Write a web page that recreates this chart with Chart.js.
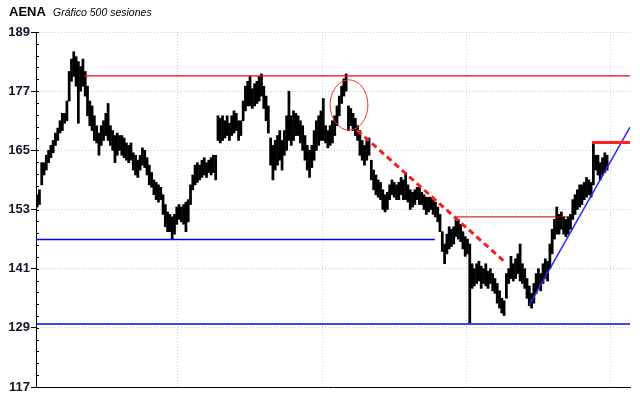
<!DOCTYPE html>
<html>
<head>
<meta charset="utf-8">
<title>AENA</title>
<script src="https://cdn.jsdelivr.net/npm/chart.js@4/dist/chart.umd.min.js"></script>
<style>
  html, body { margin: 0; padding: 0; background: #fff; }
</style>
</head>
<body>
<canvas id="chart" width="640" height="398"></canvas>
<script>
// rango diario (mínimo / máximo), una barra cada 2 sesiones
const lows = [
  153.5, 154, 158, 160, 161, 162.5, 163.5, 164.5, 166, 167,
  168.5, 169, 170.5, 171, 175, 179, 180, 178, 170.5, 177,
  178, 176, 172, 170, 169, 167, 166.5, 164, 166, 167,
  168, 167, 166, 165, 162.5, 164, 165, 164, 163.5, 163,
  162.5, 163, 161, 160, 159.5, 161, 162, 161.5, 160, 158,
  157.5, 156, 155, 154.5, 155, 152, 149.5, 148.5, 148.5, 147,
  148, 150, 151, 150.5, 150, 148.5, 150.5, 154, 157, 158,
  158.5, 159, 159.5, 160, 159.5, 160.5, 160, 160.5, 159, 167,
  166.5, 167, 167.5, 168, 167, 168, 168.5, 169, 167, 168,
  171, 173, 174, 174, 173.5, 174, 174.5, 175, 176, 173.5,
  171, 168.5, 162, 159, 161, 162, 163, 161, 164, 165,
  167, 166, 167, 168, 168, 166.5, 165, 163, 161, 159.5,
  161.5, 163, 165, 166, 167, 167, 166.5, 165.5, 166, 166.5,
  168, 170, 172, 174.5, 176, 177, 169, 170, 169, 168,
  167, 164, 163, 162, 163, 164, 159, 157, 156, 155.5,
  155, 153, 152.5, 153, 155, 156, 155.5, 155, 155, 156,
  155, 155, 154.5, 153, 153.5, 154, 155, 154, 154, 153,
  152, 152.5, 153, 152, 151.5, 150.5, 148.5, 144.5, 142, 144,
  145, 145.5, 146, 147.5, 147, 146.5, 145, 143.5, 144, 130,
  137, 137.5, 138, 138.5, 137, 138, 137.5, 137, 138, 136.5,
  136, 134, 133, 132, 131.5, 135, 138, 139, 138.5, 139,
  140, 138.5, 138, 137, 135, 133.5, 133, 134, 136, 137,
  136.5, 138, 139, 138.5, 141, 144, 147, 148, 148, 149,
  148, 147.5, 148, 149, 151, 152, 153, 153.5, 154, 155,
  155.5, 156, 155.5, 158, 161, 160, 159, 160, 160.5, 161
];
const highs = [
  156, 157, 162.5, 162.5, 164, 165, 166, 167, 168.5, 169.5,
  171, 172.5, 172.5, 175, 181, 183.5, 185, 184, 183, 182,
  183.5, 181, 178, 175, 174, 172, 170, 168.5, 170, 171,
  172.5, 174.5, 170, 169, 168, 168.5, 168, 168, 167.5, 166.5,
  166, 166.5, 164.5, 164, 163, 164, 165.5, 165, 163.5, 162,
  160.5, 159, 158.5, 158, 157.5, 156, 154, 152.5, 152, 151.5,
  152, 153.5, 154, 153.5, 154, 154.5, 155, 158, 160, 162,
  162.5, 162, 163, 163.5, 162.5, 163, 163.5, 164, 164, 172,
  171.5, 172, 171, 172, 170.5, 172, 173, 172.5, 171, 171,
  175, 178, 179, 180, 177.5, 178.5, 179, 180, 180.5, 178,
  176, 174, 167.5, 166, 167, 168, 169, 167, 169, 172,
  177, 172, 173, 172.5, 172, 171, 170, 168, 166, 165,
  166, 169, 171, 172, 173, 175.5, 170, 169, 170, 171,
  172, 174, 176, 178, 179.5, 180.5, 174, 173.5, 172.5, 171.5,
  170, 169, 167, 166, 167, 167.5, 163, 161, 160, 159,
  158.5, 157, 156, 156.5, 158, 159, 158.5, 158, 158.5, 159.5,
  159, 160.5, 158, 157, 156.5, 157, 157.5, 157.5, 156.5, 156,
  155.5, 155.5, 155.5, 155, 154.5, 153.5, 152, 148.5, 146, 148,
  149.5, 149, 149.5, 151.5, 151, 150, 148.5, 147.5, 147, 146,
  142, 141, 142, 142.5, 141.5, 141, 142, 140.5, 141, 140,
  139, 138, 136.5, 135, 134.5, 140, 141, 143.5, 142, 143,
  144, 146, 142, 141, 139, 137.5, 136, 138, 140, 141,
  140, 142, 143, 142.5, 146, 149, 151, 153.5, 152, 152.5,
  151.5, 151, 151.5, 152, 155, 156, 157, 158, 158, 158.5,
  159.5, 159, 158.5, 166.5, 164, 164, 162.5, 163.5, 164.5, 164
];

const yMin = 117;
const yMax = 189;
const yMajorStep = 12;
const yMinorStep = 2.4;
const xMax = 519;
const xGridSessions = [124, 250, 376, 502];

// líneas de soporte / resistencia: [sesión, precio] inicio y fin
const redResistance = [[42, 180.1], [519, 180.1]];
const redTop = [[486, 166.6], [519, 166.6]];
const redMid = [[368, 151.5], [467, 151.5]];
const redDashed = [[280.5, 169.1], [410, 142.3]];
const blueSupportHigh = [[0, 146.9], [348.5, 146.9]];
const blueSupportLow = [[0, 129.8], [519, 129.8]];
const blueTrend = [[431, 133.6], [519, 169.7]];
const circle = { session: 273.5, price: 174.2, rSessions: 16.5, rPrice: 5.1 };

const toPoints = (pairs) => pairs.map(([x, y]) => ({ x, y }));
const isMajor = (v) => {
  const k = (v - yMin) / yMajorStep;
  return Math.abs(k - Math.round(k)) < 0.01;
};

const lineSet = (pairs, color, width, dash) => ({
  type: 'line',
  data: toPoints(pairs),
  borderColor: color,
  borderWidth: width,
  borderDash: dash || [],
  pointRadius: 0,
  fill: false,
  order: 1
});

const decorations = {
  id: 'decorations',
  afterDatasetsDraw(chart) {
    const { ctx, chartArea } = chart;
    const x = chart.scales.x;
    const y = chart.scales.y;

    // círculo rojo
    const cx = x.getPixelForValue(circle.session);
    const cy = y.getPixelForValue(circle.price);
    const rx = Math.abs(x.getPixelForValue(circle.session + circle.rSessions) - cx);
    const ry = Math.abs(y.getPixelForValue(circle.price + circle.rPrice) - cy);
    ctx.save();
    ctx.strokeStyle = '#ff3030';
    ctx.lineWidth = 1;
    ctx.beginPath();
    ctx.ellipse(cx, cy, rx, ry, 0, 0, Math.PI * 2);
    ctx.stroke();

    // marcas menores del eje
    ctx.strokeStyle = '#000';
    y.ticks.forEach((t) => {
      const py = Math.round(y.getPixelForValue(t.value)) + 0.5;
      ctx.beginPath();
      ctx.moveTo(chartArea.left, py);
      ctx.lineTo(chartArea.left + 3, py);
      ctx.stroke();
    });
    ctx.restore();
  },
  afterDraw(chart) {
    const { ctx } = chart;
    ctx.save();
    ctx.fillStyle = '#000';
    ctx.textBaseline = 'alphabetic';
    ctx.font = 'bold 13px "Liberation Sans", Arial, sans-serif';
    ctx.fillText('AENA', 9, 16);
    ctx.font = 'italic 10.5px "Liberation Sans", Arial, sans-serif';
    ctx.fillText('Gráfico 500 sesiones', 53, 16);
    ctx.restore();
  }
};

new Chart(document.getElementById('chart'), {
  type: 'bar',
  data: {
    datasets: [
      {
        type: 'bar',
        data: lows.map((lo, i) => ({ x: i * 2 + 1, y: [lo, highs[i]] })),
        backgroundColor: '#000',
        borderWidth: 0,
        barThickness: 2.1,
        order: 2
      },
      lineSet(redResistance, '#ff0000', 1.2),
      lineSet(redTop, '#ff2020', 3),
      lineSet(redMid, '#c00000', 1),
      lineSet(redDashed, '#ff1a1a', 3, [6, 4]),
      lineSet(blueSupportHigh, '#0000ff', 1.5),
      lineSet(blueSupportLow, '#0000ff', 1.5),
      lineSet(blueTrend, '#2a2aff', 1.5)
    ]
  },
  options: {
    responsive: false,
    animation: false,
    layout: { padding: { top: 32, right: 10, bottom: 11, left: 0 } },
    plugins: {
      legend: { display: false },
      tooltip: { enabled: false }
    },
    scales: {
      x: {
        type: 'linear',
        min: 0,
        max: xMax,
        offset: false,
        afterBuildTicks: (scale) => {
          scale.ticks = xGridSessions.map((v) => ({ value: v }));
        },
        afterFit: (scale) => { scale.height = 0; },
        ticks: { display: false },
        grid: {
          offset: false,
          color: '#c4ccd4',
          lineWidth: 1,
          drawTicks: false
        },
        border: { display: true, color: '#000', width: 1, dash: [1, 2] }
      },
      y: {
        min: yMin,
        max: yMax,
        afterFit: (scale) => { scale.width = 36; },
        ticks: {
          stepSize: yMinorStep,
          autoSkip: false,
          padding: 1,
          color: '#141428',
          font: { family: '"Liberation Sans", Arial, sans-serif', size: 13, weight: 'bold' },
          callback: (v) => (isMajor(v) ? String(Math.round(v)) : '')
        },
        grid: {
          color: (c) => {
            if (!c.tick || !isMajor(c.tick.value)) return 'rgba(0,0,0,0)';
            return Math.round(c.tick.value) === 129 ? '#d0d0a0' : '#cfc4d8';
          },
          tickColor: (c) => (c.tick && isMajor(c.tick.value) ? '#000' : 'rgba(0,0,0,0)'),
          tickLength: 5,
          lineWidth: 1
        },
        border: { display: true, color: '#000', width: 1, dash: [1, 2] }
      }
    }
  },
  plugins: [decorations]
});
</script>
</body>
</html>
